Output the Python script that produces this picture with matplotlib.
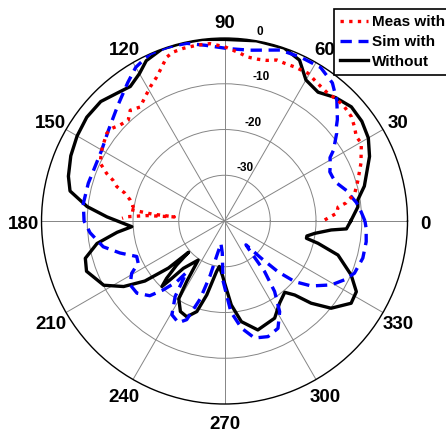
import numpy as np
import matplotlib
matplotlib.use("Agg")
import matplotlib.pyplot as plt
from matplotlib.transforms import offset_copy

# ---------------- data (angle in degrees, level in dB) ----------------
meas_theta = [0.6, 4, 7, 8.5, 12, 17, 23, 29.6, 32.6, 36, 39.4, 43.6, 47, 51, 55.8,
              60.5, 65.5, 69, 72, 75.3, 78.5, 82, 85, 90, 94.7, 99, 103.4, 106.8,
              109.4, 111.2, 115.2, 119, 122.6, 126.5, 130.4, 133.6, 137.4, 140.6,
              143.3, 147.3, 150, 155, 158, 160, 162.3, 164.4, 167.5, 171, 173,
              174.5, 175.3, 176, 177.5, 178.5]
meas_db = [-18.1, -15.4, -15.0, -13.1, -10.9, -9.5, -7.6, -5.6, -5.8, -4.9, -4.1, -3.8,
           -3.8, -4.1, -3.7, -2.9, -3.0, -3.1, -3.0, -3.7, -3.9, -3.8, -3.1, -1.9,
           -1.1, -1.1, -1.2, -1.4, -2.0, -3.1, -5.2, -6.5, -7.8, -9.0, -8.2, -9.5,
           -9.0, -8.1, -7.9, -8.6, -9.0, -10.0, -12.2, -14.1, -15.3, -17.4, -18.9,
           -19.8, -19.0, -24.0, -29.0, -23.0, -18.6, -17.6]

sim_theta = [0, 4, 8, 11, 14, 19, 22, 25, 28, 31, 33, 38, 40, 42, 47, 52, 58, 65, 72,
             81.5, 89, 96, 102, 108, 114, 120, 125, 133, 142, 150, 157, 164.5, 173,
             180, 185, 192, 197, 202, 206, 209.4, 214, 219.5, 225, 228.4, 231.8,
             233.5, 236.8, 240.7, 245.6, 249, 252.6, 255.2, 257.4, 261, 266, 268.5,
             274, 279, 284.4, 290.6, 296.5, 301.3, 305.4, 308.4, 310.5, 312, 313.5,
             314.6, 316.5, 319.2, 323.2, 329.1, 333.9, 338.1, 345, 351.7, 357, 360]
sim_db = [-9.3, -10.1, -10.9, -11.8, -12.5, -14.2, -14.5, -14.6, -13.8, -13.1, -11.6,
          -8.9, -8.1, -6.8, -4.0, -1.7, -0.4, -0.5, -0.7, -2.25, -2.3, -1.4, -0.3,
          0, 0, -1.2, -3.1, -5.7, -7.8, -9.0, -9.3, -9.1, -8.9, -9.3, -10.5, -12.9,
          -16.1, -19.3, -19.0, -16.7, -15.1, -15.2, -16.9, -19.9, -23.1, -26.0,
          -20.3, -16.5, -15.6, -16.9, -22.1, -27.6, -32.2, -35.0, -33.0, -27.0,
          -20.1, -16.3, -13.6, -13.0, -13.8, -16.8, -21.1, -25.9, -31.5, -33.0,
          -31.0, -28.6, -23.9, -19.7, -16.3, -12.8, -10.8, -9.4, -8.7, -8.7, -9.0,
          -9.3]

wo_theta = [0, 6, 9, 14, 24, 30, 36, 42, 48, 54, 60, 65, 71, 80, 90, 97, 103, 110,
            116, 120, 125, 130, 136, 143, 150, 157, 164, 169, 174, 178, 183.5, 186,
            190, 195, 200, 208, 213, 217, 220, 221, 222.6, 224.7, 226.3, 227.3,
            229, 236, 238, 239.5, 244, 248.5, 253, 256.5, 261, 263.5, 268, 270,
            274.6, 279.5, 287, 297.3, 303.9, 310.2, 313.5, 316.5, 320.7, 327, 331.8,
            336.9, 343.3, 346.6, 348.1, 349.7, 352.2, 355.2, 356.3, 360]
wo_db = [-12.4, -10.7, -10.5, -8.5, -5.3, -3.7, -2.9, -2.7, -3.7, -5.2, -4.4, -1.2,
         0, 0, -0.3, 0, 0, 0, -1.0, -2.8, -4.1, -3.5, -2.4, -2.3, -2.8, -3.5, -4.5,
         -5.6, -9.8, -14.3, -19.7, -16.4, -11.7, -8.5, -7.9, -10.1, -13.7, -18.2,
         -24.0, -29.6, -25.8, -22.2, -20.2, -22.7, -26.3, -29.7, -24.4, -20.3, -18.0,
         -17.5, -19.3, -23.4, -28.8, -30.0, -28.0, -26.5, -21.6, -17.7, -15.1, -16.1,
         -18.4, -19.6, -17.7, -13.9, -9.9, -7.0, -7.3, -9.9, -14.1, -19.0, -21.7,
         -21.7, -20.1, -16.6, -13.3, -12.4]

series_labels = ["Meas with", "Sim with", "Without"]
angle_ticks = list(range(0, 360, 30))
ring_values = [-30, -20, -10]
ring_labels = ["0", "-10", "-20", "-30"]

# ---------------- figure ----------------
FONT = "Liberation Sans"
fig = plt.figure(figsize=(4.46, 4.32), dpi=100)
ax = fig.add_axes([0.0931, 0.0648, 0.8206, 0.8472], projection="polar")
ax.set_ylim(-40, 0)
ax.set_theta_zero_location("E")
ax.set_theta_direction(1)

ax.set_thetagrids(angle_ticks, labels=[""] * len(angle_ticks))
ax.set_rgrids(ring_values, labels=[""] * len(ring_values))
ax.grid(True, color="#858585", linewidth=0.7)
ax.spines["polar"].set_color("black")
ax.spines["polar"].set_linewidth(1.0)
ax.tick_params(length=0)

l1, = ax.plot(np.deg2rad(meas_theta), meas_db, color="#ff0000", lw=2.4,
              ls=(0, (1, 1.6)), zorder=5)
l2, = ax.plot(np.deg2rad(sim_theta), sim_db, color="#0000ff", lw=2.4,
              ls=(0, (3.4, 2.0)), zorder=4)
l3, = ax.plot(np.deg2rad(wo_theta), wo_db, color="black", lw=2.4, zorder=3)

# angle labels outside the circle
lab_tr = offset_copy(ax.transData, fig=fig, x=0, y=-3, units="dots")
for a in angle_ticks:
    ax.text(np.deg2rad(a), 3.9, str(a), ha="center", va="center",
            fontsize=13.5, fontweight="bold", family=FONT, clip_on=False,
            transform=lab_tr)

# ring labels
ring_tr = offset_copy(ax.transData, fig=fig, x=0, y=-1.5, units="dots")
ring_pos = [(79.4, 2.3), (75.9, -7.3), (73.8, -17.4), (69.3, -27.3)]
for txt, (th, rr) in zip(ring_labels, ring_pos):
    ax.text(np.deg2rad(th), rr, txt, ha="center", va="center",
            fontsize=8.5, fontweight="bold", family=FONT, clip_on=False,
            transform=ring_tr)

leg = fig.legend([l1, l2, l3], series_labels, loc="upper left",
                 bbox_to_anchor=(334 / 446, 1 - 9 / 432),
                 bbox_transform=fig.transFigure, frameon=True, fancybox=False,
                 edgecolor="black", framealpha=1, borderaxespad=0,
                 borderpad=0.4, labelspacing=0.38, handlelength=1.8,
                 handletextpad=0.28,
                 prop={"family": FONT, "weight": "bold", "size": 11})
leg.get_frame().set_linewidth(1.2)

fig.savefig("out.png", dpi=100)
